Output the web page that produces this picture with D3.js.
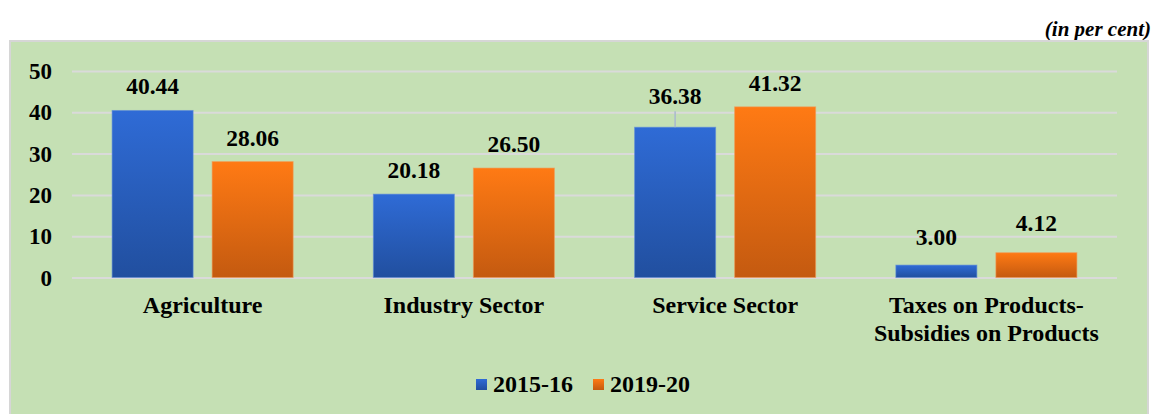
<!DOCTYPE html>
<html>
<head>
<meta charset="utf-8">
<script src="https://cdn.jsdelivr.net/npm/d3@7"></script>
<style>
  body { margin: 0; background: #ffffff; }
  svg { display: block; }
  text { font-weight: bold; fill: #000; }
</style>
</head>
<body>
<div id="chart"></div>
<script>
/* global d3 */

var categories = ['Agriculture', 'Industry Sector', 'Service Sector', 'Taxes on Products-|Subsidies on Products'],
series = ['2015-16', '2019-20'],
values2015 = [40.44, 20.18, 36.38, 3.00],
values2019 = [28.06, 26.50, 41.32, 4.12],
// bar heights as drawn in the source (the last orange bar is drawn taller than its label)
drawn2019 = [28.06, 26.50, 41.32, 6.0],
yTicks = [0, 10, 20, 30, 40, 50];

var W = 1158,
H = 414,
left = 72,
right = 1117,
y0 = 277.5,
y50 = 71,
font = "'Liberation Serif', monospace",
colors = [
  ['#2f6bd6', '#214f9f'],
  ['#ff7a14', '#c45a10']
];

var svg = d3.select('#chart').
append('svg').
attr('width', W).
attr('height', H);

var defs = svg.append('defs');
colors.forEach(function (c, i) {
  var g = defs.append('linearGradient').
  attr('id', 'grad' + i).
  attr('x1', 0).attr('y1', 0).
  attr('x2', 0).attr('y2', 1);
  g.append('stop').attr('offset', '0%').attr('stop-color', c[0]);
  g.append('stop').attr('offset', '100%').attr('stop-color', c[1]);
});

// unit note above the panel
svg.append('text').
attr('x', 1151).
attr('y', 36).
attr('text-anchor', 'end').
style('font-family', font).
style('font-style', 'italic').
style('font-size', '21px').
text('(in per cent)');

// panel
svg.append('rect').
attr('x', 10).
attr('y', 41).
attr('width', 1138).
attr('height', 390).
attr('fill', '#c5e0b4').
attr('stroke', '#d6d6d6').
attr('stroke-width', 2);

var yScale = d3.scaleLinear().
domain([0, 50]).
range([y0, y50]);

var xScale = d3.scaleBand().
domain(categories).
range([left, right]).
paddingInner(0.307).
paddingOuter(0.1535);

var xInner = d3.scaleBand().
domain(series).
range([0, xScale.bandwidth()]).
paddingInner(0.19);

var yAxis = d3.axisLeft(yScale).
tickValues(yTicks).
tickSize(-(right - left)).
tickPadding(20).
tickFormat(d3.format('d'));

var yG = svg.append('g').
attr('transform', 'translate(' + left + ',0)').
call(yAxis);
yG.select('.domain').remove();
yG.selectAll('line').
attr('stroke', '#dadada').
attr('stroke-width', 2);
yG.selectAll('text').
style('font-family', font).
style('font-size', '23px').
attr('fill', '#000').
attr('dy', '0.33em');

var rows = categories.map(function (c, i) {
  return [
    { cat: c, s: series[0], v: values2015[i], h: values2015[i], idx: 0 },
    { cat: c, s: series[1], v: values2019[i], h: drawn2019[i], idx: 1 }
  ];
});

var groups = svg.selectAll('g.cat').
data(rows).
enter().
append('g').
attr('class', 'cat').
attr('transform', function (d, i) { return 'translate(' + xScale(categories[i]) + ',0)'; });

groups.selectAll('rect').
data(function (d) { return d; }).
enter().
append('rect').
attr('x', function (d) { return xInner(d.s); }).
attr('y', function (d) { return yScale(d.h); }).
attr('width', xInner.bandwidth()).
attr('height', function (d) { return yScale(0) - yScale(d.h); }).
attr('fill', function (d) { return 'url(#grad' + d.idx + ')'; }).
attr('stroke', function (d) { return d.idx === 0 ? '#5b8ad8' : '#f09a55'; }).
attr('stroke-opacity', 0.6).
attr('stroke-width', 1);

// labels moved up in the source; the Service Sector one has a leader line
var lift = {
  'Service Sector|2015-16': 7,
  'Taxes on Products-|Subsidies on Products|2015-16': 4,
  'Taxes on Products-|Subsidies on Products|2019-20': 6
};
var leader = { 'Service Sector|2015-16': true };

groups.selectAll('line.leader').
data(function (d) { return d.filter(function (r) { return leader[r.cat + '|' + r.s]; }); }).
enter().
append('line').
attr('class', 'leader').
attr('x1', function (d) { return xInner(d.s) + xInner.bandwidth() / 2; }).
attr('x2', function (d) { return xInner(d.s) + xInner.bandwidth() / 2; }).
attr('y1', function (d) { return yScale(d.h) - 16; }).
attr('y2', function (d) { return yScale(d.h); }).
attr('stroke', '#a9b9cf').
attr('stroke-width', 1.5);

groups.selectAll('text.val').
data(function (d) { return d; }).
enter().
append('text').
attr('class', 'val').
attr('x', function (d) { return xInner(d.s) + xInner.bandwidth() / 2; }).
attr('y', function (d) { return yScale(d.h) - 16 - (lift[d.cat + '|' + d.s] || 0); }).
attr('text-anchor', 'middle').
style('font-family', font).
style('font-size', '23.5px').
text(function (d) { return d3.format('.2f')(d.v); });

// category labels
svg.selectAll('text.cat').
data(categories).
enter().
append('text').
attr('class', 'cat').
attr('x', function (d) { return xScale(d) + xScale.bandwidth() / 2; }).
attr('y', 313).
attr('text-anchor', 'middle').
style('font-family', font).
style('font-size', '24px').
each(function (d) {
  var t = d3.select(this);
  d.split('|').forEach(function (line, i) {
    t.append('tspan').
    attr('x', xScale(d) + xScale.bandwidth() / 2).
    attr('dy', i === 0 ? 0 : 28).
    text(line);
  });
});

// legend
var legend = svg.append('g').
attr('transform', 'translate(476,379)');

var items = legend.selectAll('g').
data(series).
enter().
append('g').
attr('transform', function (d, i) { return 'translate(' + i * 117 + ',0)'; });

items.append('rect').
attr('width', 11).
attr('height', 11).
attr('fill', function (d, i) { return 'url(#grad' + i + ')'; });

items.append('text').
attr('x', 17).
attr('y', 13).
style('font-family', font).
style('font-size', '24px').
text(function (d) { return d; });
</script>
</body>
</html>
